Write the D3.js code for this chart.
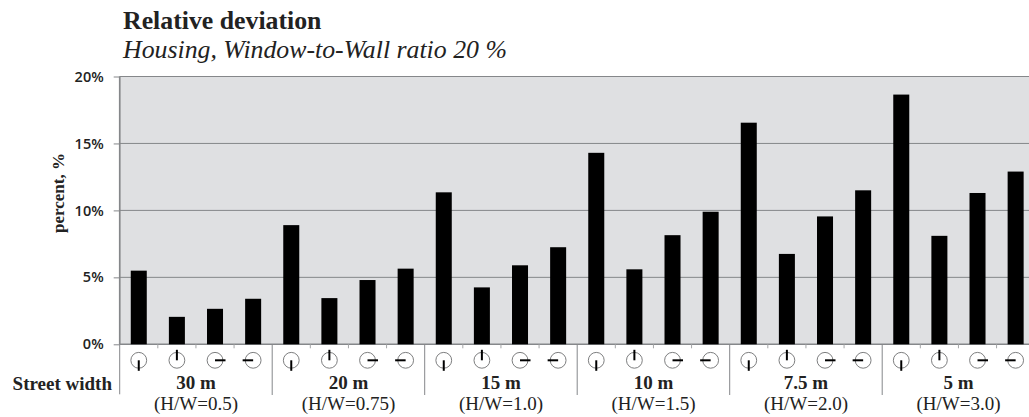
<!DOCTYPE html>
<html><head><meta charset="utf-8">
<script src="https://cdn.jsdelivr.net/npm/d3@7"></script>
<style>html,body{margin:0;padding:0;background:#fff;overflow:hidden}svg{display:block}</style>
</head><body><svg id="c" width="1029" height="417"></svg>
<script>
const streetWidths = ["30 m","20 m","15 m","10 m","7.5 m","5 m"];
const ratios = ["(H/W=0.5)","(H/W=0.75)","(H/W=1.0)","(H/W=1.5)","(H/W=2.0)","(H/W=3.0)"];
const orientations = ["S","N","E","W"];
const deviations = [
  [5.5,2.05,2.65,3.4],
  [8.9,3.45,4.8,5.65],
  [11.35,4.25,5.9,7.25],
  [14.3,5.6,8.15,9.9],
  [16.55,6.75,9.55,11.5],
  [18.65,8.1,11.3,12.9]
];
const yTicks = [0,5,10,15,20];
const titleText = "Relative deviation";
const subtitleText = "Housing, Window-to-Wall ratio 20 %";

const svg = d3.select("#c");
const plotLeft = 119.7, groupW = 152.5, plotTop = 76.5, plotBottom = 344.3;
const serif = "'Liberation Serif','Times New Roman',serif";
const sans = "'Open Sans','Noto Sans',sans-serif";
const gx = d3.scaleBand().domain(streetWidths).range([plotLeft, plotLeft + groupW*streetWidths.length]);
const ox = d3.scaleBand().domain(orientations).range([0, groupW]).paddingInner(0.58).paddingOuter(0.29);
const y = d3.scaleLinear().domain([0,20]).range([plotBottom, plotTop]);
const grey = "#85878a";

svg.append("rect").attr("x",plotLeft).attr("y",plotTop).attr("width",1029-plotLeft).attr("height",plotBottom-plotTop).attr("fill","#dfe0e2");

// y axis with gridlines
svg.append("g").attr("transform",`translate(${plotLeft},0)`)
  .call(d3.axisLeft(y).tickValues(yTicks).tickFormat(d=>d+"%").tickSize(6).tickPadding(10))
  .call(g=>{
    g.select(".domain").attr("stroke",grey).attr("d",`M0,${plotTop}V${plotBottom+50}`).attr("stroke-width",1);
    g.selectAll("line").attr("stroke",grey).attr("stroke-width",1);
    g.selectAll("text").attr("font-family",sans).attr("font-size",14.5).attr("font-weight",600).attr("fill","#222");
  });
svg.append("line").attr("x1",plotLeft).attr("x2",plotLeft).attr("y1",plotTop).attr("y2",plotBottom).attr("stroke",grey).attr("stroke-width",1.6);
svg.selectAll(".grid").data(yTicks).join("line").attr("class","grid")
  .attr("x1",plotLeft).attr("x2",1029).attr("y1",d=>y(d)).attr("y2",d=>y(d))
  .attr("stroke",grey).attr("stroke-width",d=>d===0?1.6:1);

// bars
const groups = svg.selectAll(".grp").data(streetWidths).join("g").attr("class","grp")
  .attr("transform",d=>`translate(${gx(d)},0)`);
groups.selectAll("rect").data((d,i)=>deviations[i].map((v,j)=>({v,o:orientations[j]}))).join("rect")
  .attr("x",d=>ox(d.o)).attr("width",ox.bandwidth())
  .attr("y",d=>y(d.v)).attr("height",d=>y(0)-y(d.v)).attr("fill","#000");

// separators and small ticks
groups.append("line").attr("x1",0).attr("x2",0).attr("y1",plotBottom).attr("y2",395).attr("stroke",grey).attr("stroke-width",1).attr("display",(d,i)=>i?null:"none");
groups.selectAll(".tk").data([1,2,3]).join("line").attr("class","tk")
  .attr("x1",d=>d*groupW/4).attr("x2",d=>d*groupW/4).attr("y1",plotBottom).attr("y2",plotBottom+4)
  .attr("stroke","#a5a6a8").attr("stroke-width",1);

// orientation icons
const iconSeg = {S:[0,10.5],N:[0,-10.5],E:[10.5,0],W:[-10.5,0]};
const icons = groups.selectAll(".ic").data(orientations).join("g").attr("class","ic")
  .attr("transform",d=>`translate(${ox(d)+ox.bandwidth()/2},${plotBottom+16})`);
icons.append("circle").attr("r",7.9).attr("fill","#fff").attr("stroke","#6e6f71").attr("stroke-width",0.9);
icons.append("line").attr("x1",0).attr("y1",0).attr("x2",d=>iconSeg[d][0]).attr("y2",d=>iconSeg[d][1])
  .attr("stroke","#000").attr("stroke-width",2);

// group labels
groups.append("text").attr("x",groupW/2).attr("y",389).attr("text-anchor","middle")
  .attr("font-family",serif).attr("font-weight",700).attr("font-size",19).attr("fill","#222").text(d=>d);
groups.append("text").attr("x",groupW/2).attr("y",410).attr("text-anchor","middle")
  .attr("font-family",serif).attr("font-size",19).attr("fill","#222").text((d,i)=>ratios[i]);

svg.append("text").attr("x",112).attr("y",390).attr("text-anchor","end")
  .attr("font-family",serif).attr("font-weight",700).attr("font-size",19).attr("fill","#222").text("Street width");
svg.append("text").attr("transform","translate(63.5,193) rotate(-90)").attr("text-anchor","middle")
  .attr("font-family",serif).attr("font-weight",700).attr("font-size",17).attr("fill","#222").text("percent, %");
svg.append("text").attr("x",123).attr("y",29).attr("font-family",serif).attr("font-weight",700).attr("font-size",25.8).attr("fill","#222").text(titleText);
svg.append("text").attr("x",123).attr("y",58).attr("font-family",serif).attr("font-style","italic").attr("font-size",25.8).attr("fill","#222").text(subtitleText);
</script></body></html>
